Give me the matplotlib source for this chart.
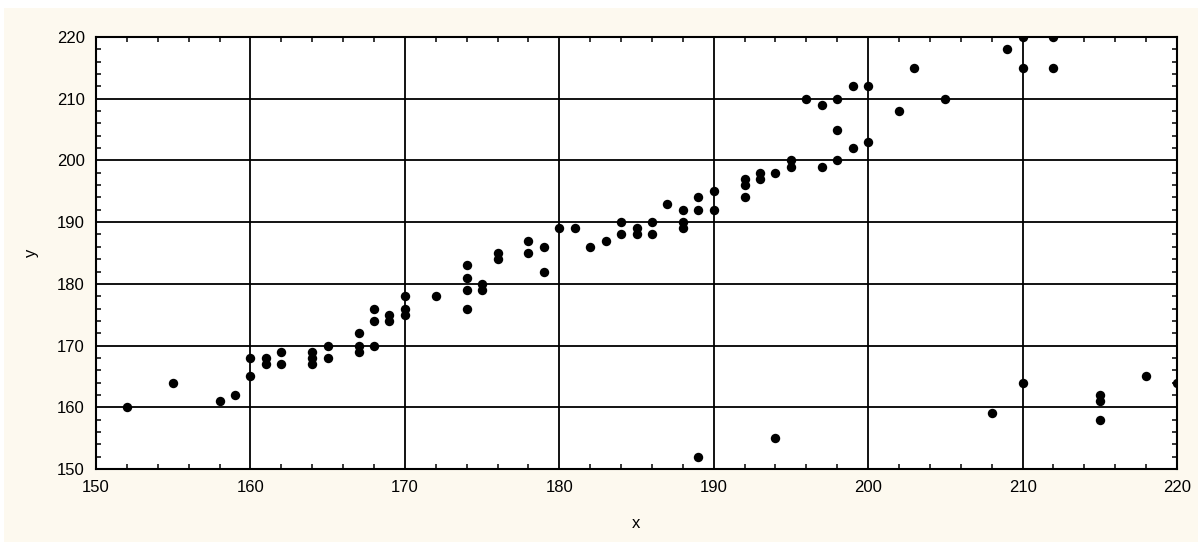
import matplotlib
matplotlib.use("Agg")
import matplotlib.pyplot as plt
from matplotlib.patches import Rectangle
from matplotlib.ticker import MultipleLocator

# data
x = [152, 155, 158, 159, 160, 160, 161, 161, 162, 162,
     164, 164, 164, 165, 165, 167, 167, 167, 168, 168,
     168, 169, 169, 170, 170, 170, 172, 174, 174, 174,
     174, 175, 175, 176, 176, 178, 178, 179, 179, 180,
     181, 182, 183, 184, 184, 185, 185, 186, 186, 187,
     188, 188, 188, 189, 189, 189, 190, 190, 192, 192,
     192, 193, 193, 194, 194, 195, 195, 196, 197, 197,
     198, 198, 198, 199, 199, 200, 200, 202, 203, 205,
     208, 209, 210, 210, 210, 212, 212, 215, 215, 215,
     218, 220]
y = [160, 164, 161, 162, 168, 165, 168, 167, 169, 167,
     169, 168, 167, 170, 168, 172, 170, 169, 176, 174,
     170, 175, 174, 178, 176, 175, 178, 183, 181, 179,
     176, 180, 179, 185, 184, 187, 185, 186, 182, 189,
     189, 186, 187, 190, 188, 189, 188, 190, 188, 193,
     192, 190, 189, 194, 192, 152, 195, 192, 197, 196,
     194, 198, 197, 198, 155, 200, 199, 210, 209, 199,
     210, 205, 200, 212, 202, 212, 203, 208, 215, 210,
     159, 218, 220, 215, 164, 220, 215, 162, 161, 158,
     165, 164]

plt.rcParams['font.family'] = ['Liberation Sans', 'DejaVu Sans']

fig = plt.figure(figsize=(11.98, 5.42), dpi=100)
fig.patch.set_facecolor('white')
fig.patches.append(Rectangle((4 / 1198, 0), 1, 1 - 8 / 542, transform=fig.transFigure,
                             facecolor='#fdf9ef', edgecolor='none', zorder=-10))

ax = fig.add_axes([96 / 1198, 73 / 542, 1081 / 1198, 432 / 542])
ax.set_facecolor('white')

ax.scatter(x, y, s=46, color='black', zorder=3, linewidths=0)

ax.set_xlim(150, 220)
ax.set_ylim(150, 220)
ax.xaxis.set_major_locator(MultipleLocator(10))
ax.xaxis.set_minor_locator(MultipleLocator(2))
ax.yaxis.set_major_locator(MultipleLocator(10))
ax.yaxis.set_minor_locator(MultipleLocator(2))
ax.grid(True, which='major', color='black', linewidth=1.3)
ax.set_axisbelow(True)

ax.tick_params(which='both', direction='in', top=True, right=True,
               labelsize=12, colors='black')
ax.tick_params(which='major', length=0, pad=8)
ax.tick_params(which='minor', length=3.5, width=1.1)
for s in ax.spines.values():
    s.set_linewidth(1.5)

ax.set_xlabel('x', fontsize=12, labelpad=15)
ax.set_ylabel('y', fontsize=12, labelpad=13)

fig.savefig('out.png', dpi=100)
